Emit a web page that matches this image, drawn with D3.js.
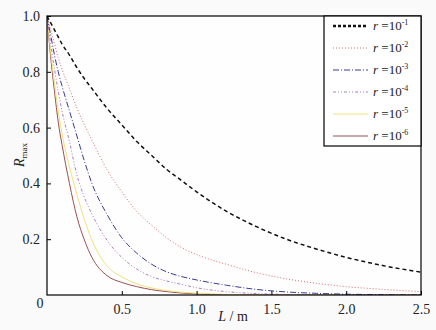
<!DOCTYPE html>
<html>
<head>
<meta charset="utf-8">
<script src="https://cdn.jsdelivr.net/npm/d3@7"></script>
<style>
body { margin: 0; background: #fafafa; }
svg { display: block; }
text { font-family: "Liberation Serif", "DejaVu Serif", serif; }
</style>
</head>
<body>
<svg id="chart" width="436" height="330"></svg>
<script>
// L values (m) shared by every curve
const lengths = [0, 0.025, 0.05, 0.075, 0.1, 0.15, 0.2, 0.25, 0.3, 0.4, 0.5, 0.6, 0.7, 0.8, 0.9, 1.0, 1.2, 1.4, 1.6, 1.8, 2.0, 2.25, 2.5];

// R_max, one array per r
const r1 = [1.0, 0.975, 0.95, 0.925, 0.90, 0.86, 0.815, 0.775, 0.74, 0.67, 0.61, 0.55, 0.50, 0.45, 0.41, 0.37, 0.30, 0.245, 0.20, 0.165, 0.135, 0.105, 0.082];
const r2 = [1.0, 0.95, 0.90, 0.85, 0.81, 0.74, 0.67, 0.61, 0.555, 0.45, 0.37, 0.30, 0.25, 0.205, 0.17, 0.145, 0.11, 0.08, 0.058, 0.042, 0.03, 0.02, 0.012];
const r3 = [1.0, 0.93, 0.86, 0.80, 0.75, 0.66, 0.57, 0.48, 0.40, 0.29, 0.205, 0.15, 0.11, 0.083, 0.066, 0.054, 0.035, 0.02, 0.011, 0.006, 0.003, 0.001, 0.0];
const r4 = [1.0, 0.90, 0.81, 0.73, 0.66, 0.55, 0.43, 0.35, 0.29, 0.197, 0.135, 0.093, 0.066, 0.05, 0.038, 0.026, 0.012, 0.005, 0.002, 0.0, 0.0, 0.0, 0.0];
const r5 = [1.0, 0.87, 0.76, 0.66, 0.58, 0.46, 0.36, 0.27, 0.197, 0.105, 0.065, 0.04, 0.025, 0.016, 0.01, 0.006, 0.002, 0.0, 0.0, 0.0, 0.0, 0.0, 0.0];
const r6 = [1.0, 0.85, 0.73, 0.62, 0.54, 0.40, 0.28, 0.197, 0.135, 0.07, 0.045, 0.03, 0.019, 0.012, 0.007, 0.004, 0.001, 0.0, 0.0, 0.0, 0.0, 0.0, 0.0];

const exponents = ["-1", "-2", "-3", "-4", "-5", "-6"];
const xTicks = [0.5, 1.0, 1.5, 2.0, 2.5];
const yTicks = [0.2, 0.4, 0.6, 0.8, 1.0];

const series = [
  {vals: r1, color: "#111111", dash: "4,3", w: 1.5},
  {vals: r2, color: "#e06a6a", dash: "1,2", w: 1},
  {vals: r3, color: "#3a3a98", dash: "6,2,1,2", w: 1},
  {vals: r4, color: "#b07ac0", dash: "3,2,1,2,1,2", w: 1},
  {vals: r5, color: "#f0e27a", dash: null, w: 1},
  {vals: r6, color: "#9a5050", dash: null, w: 1}
];

const serif = "'Liberation Serif', 'DejaVu Serif', serif";

let mLeft = 47, mRight = 421, mTop = 16, mBottom = 295;

let svg = d3.select("#chart");

let xScale = d3.scaleLinear().domain([0, 2.5]).range([mLeft, mRight]);
let yScale = d3.scaleLinear().domain([0, 1]).range([mBottom, mTop]);

svg.append("rect")
  .attr("x", mLeft).attr("y", mTop)
  .attr("width", mRight - mLeft).attr("height", mBottom - mTop)
  .attr("fill", "#fefefe");

svg.append("clipPath").attr("id", "plotclip")
  .append("rect")
  .attr("x", mLeft).attr("y", mTop - 2)
  .attr("width", mRight - mLeft).attr("height", mBottom - mTop + 2);

let line = d3.line()
  .x((d, i) => xScale(lengths[i]))
  .y(d => yScale(d))
  .curve(d3.curveMonotoneX);

// draw small r first so black ends on top
svg.append("g").attr("clip-path", "url(#plotclip)")
  .selectAll("path")
  .data(series.slice().reverse())
  .enter().append("path")
  .attr("d", d => line(d.vals))
  .attr("fill", "none")
  .attr("stroke", d => d.color)
  .attr("stroke-width", d => d.w)
  .attr("stroke-dasharray", d => d.dash);

// axes with inward ticks
let xAxis = d3.axisBottom(xScale).tickValues(xTicks).tickSizeInner(-4).tickSizeOuter(0)
  .tickPadding(9).tickFormat(d3.format(".1f"));
let gx = svg.append("g").attr("transform", "translate(0," + mBottom + ")").call(xAxis)
  .attr("font-family", serif).attr("font-size", 14);
gx.select(".domain").remove();
gx.selectAll("text").attr("fill", "#222");
gx.selectAll("line").attr("stroke", "#000");

let yAxis = d3.axisLeft(yScale).tickValues(yTicks).tickSizeInner(-4).tickSizeOuter(0)
  .tickPadding(7).tickFormat(d3.format(".1f"));
let gy = svg.append("g").attr("transform", "translate(" + mLeft + ",0)").call(yAxis)
  .attr("font-family", serif).attr("font-size", 14);
gy.select(".domain").remove();
gy.selectAll("text").attr("fill", "#222");
gy.selectAll("line").attr("stroke", "#000");

svg.append("text")
  .attr("x", 40).attr("y", 308)
  .attr("text-anchor", "middle").attr("font-size", 14).attr("fill", "#222")
  .attr("font-family", serif)
  .text("0");

// frame
svg.append("rect")
  .attr("x", mLeft).attr("y", mTop)
  .attr("width", mRight - mLeft).attr("height", mBottom - mTop)
  .attr("fill", "none").attr("stroke", "#000").attr("stroke-width", 1.2);

// axis titles
let xl = svg.append("text")
  .attr("x", 233).attr("y", 321)
  .attr("text-anchor", "middle").attr("font-size", 14).attr("fill", "#222")
  .attr("font-family", serif);
xl.append("tspan").attr("font-style", "italic").text("L");
xl.append("tspan").text(" / m");

let yl = svg.append("text")
  .attr("transform", "translate(24,155) rotate(-90)")
  .attr("text-anchor", "middle").attr("font-size", 14).attr("fill", "#222")
  .attr("font-family", serif);
yl.append("tspan").attr("font-style", "italic").text("R");
yl.append("tspan").attr("font-size", 9).attr("dy", 3).text("max");

// legend
let lg = svg.append("g").attr("font-family", serif);
lg.append("rect")
  .attr("x", 324).attr("y", mTop)
  .attr("width", mRight - 324).attr("height", 130)
  .attr("fill", "#ffffff").attr("stroke", "#000").attr("stroke-width", 1.2);

let rowY = d3.scaleLinear().domain([0, 5]).range([26, 136]);

series.forEach((s, i) => {
  let y = rowY(i);
  lg.append("line")
    .attr("x1", 333).attr("x2", 368).attr("y1", y).attr("y2", y)
    .attr("stroke", s.color)
    .attr("stroke-width", i === 0 ? 2.5 : s.w)
    .attr("stroke-dasharray", i === 0 ? "3,2" : s.dash);
  let t = lg.append("text")
    .attr("x", 373).attr("y", y + 4)
    .attr("font-size", 13).attr("fill", "#222");
  t.append("tspan").attr("font-style", "italic").text("r");
  t.append("tspan").text(" =10");
  t.append("tspan").attr("font-size", 8).attr("dy", -5).text(exponents[i]);
});
</script>
</body>
</html>
